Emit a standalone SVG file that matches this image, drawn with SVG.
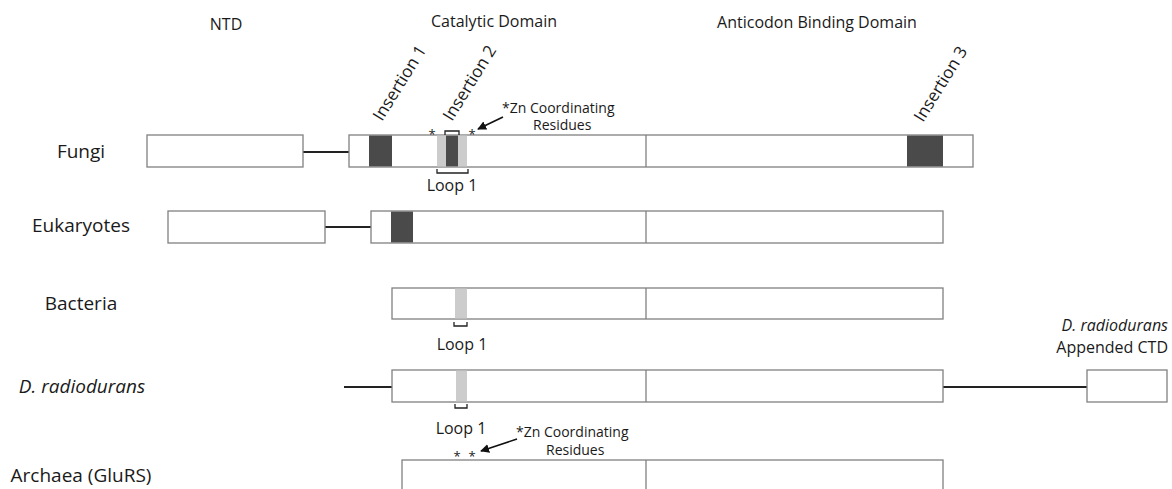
<svg xmlns="http://www.w3.org/2000/svg" width="1172" height="489" viewBox="0 0 1172 489">
<style>
text{font-family:"Open Sans","Noto Sans",sans-serif;fill:#1a1a1a}
.hd{font-size:16px;text-anchor:middle}
.lab{font-size:19px;text-anchor:middle}
.sm{font-size:14px}
.ctd{font-size:16px;text-anchor:end}
.loop{font-size:16px;text-anchor:middle}
.ins{font-size:17px}
.box{fill:#fff;stroke:#808080;stroke-width:1.3}
.dark{fill:#4a4a4a}
.light{fill:#cccccc}
.div{stroke:#808080;stroke-width:1.3}
.lnk{stroke:#222;stroke-width:2;fill:none}
.br{stroke:#222;stroke-width:1.3;fill:none}
.ast{font-size:13px;text-anchor:middle}
</style>
<defs>
<marker id="ah" viewBox="0 0 10 10" refX="9" refY="5" markerWidth="9" markerHeight="9" markerUnits="userSpaceOnUse" orient="auto">
<path d="M0,0 L10,5 L0,10 z" fill="#111"/>
</marker>
</defs>
<rect width="1172" height="489" fill="#fff"/>

<g id="headers">
<text class="hd" x="226" y="30">NTD</text>
<text class="hd" x="494" y="27">Catalytic Domain</text>
<text class="hd" x="817" y="28">Anticodon Binding Domain</text>
</g>

<g id="labels">
<text class="lab" x="81" y="158">Fungi</text>
<text class="lab" x="81" y="232">Eukaryotes</text>
<text class="lab" x="81" y="310">Bacteria</text>
<text class="lab" x="82" y="393" font-style="italic">D. radiodurans</text>
<text class="lab" x="81" y="482">Archaea (GluRS)</text>
</g>

<g id="connectors">
<line class="lnk" x1="303" y1="152" x2="349" y2="152"/>
<line class="lnk" x1="325" y1="227" x2="371" y2="227"/>
<line class="lnk" x1="344" y1="387" x2="392" y2="387"/>
<line class="lnk" x1="942" y1="387" x2="1087" y2="387"/>
<line stroke="#111" stroke-width="1.6" x1="503" y1="117" x2="478" y2="129" marker-end="url(#ah)"/>
<line stroke="#111" stroke-width="1.6" x1="517" y1="439" x2="481" y2="451" marker-end="url(#ah)"/>
</g>

<g id="fungi">
<rect class="box" x="147" y="135" width="156" height="32"/>
<rect class="box" x="349" y="135" width="624" height="32"/>
<rect class="dark" x="369" y="135.6" width="23" height="30.8"/>
<rect class="light" x="437" y="135.6" width="30" height="30.8"/>
<rect class="dark" x="446" y="135.6" width="12" height="30.8"/>
<rect class="dark" x="907" y="135.6" width="36" height="30.8"/>
<line class="div" x1="646" y1="135" x2="646" y2="167"/>
<path class="br" d="M445 135 V131 H459 V135"/>
<path class="br" d="M437 169 V173 H468 V169"/>
<text class="loop" x="452" y="191">Loop 1</text>
<text class="ast" x="432" y="139">*</text>
<text class="ast" x="472" y="139">*</text>
<text class="sm" x="502" y="113">*Zn Coordinating</text>
<text class="sm" x="533" y="130">Residues</text>
<text class="ins" transform="translate(382,122) rotate(-58)">Insertion 1</text>
<text class="ins" transform="translate(452,122) rotate(-58)">Insertion 2</text>
<text class="ins" transform="translate(923,123) rotate(-58)">Insertion 3</text>
</g>

<g id="eukaryotes">
<rect class="box" x="168" y="211" width="157" height="32"/>
<rect class="box" x="371" y="211" width="572" height="32"/>
<rect class="dark" x="391" y="211.6" width="22" height="30.8"/>
<line class="div" x1="646" y1="211" x2="646" y2="243"/>
</g>

<g id="bacteria">
<rect class="box" x="392" y="288" width="551" height="31"/>
<rect class="light" x="455" y="288.6" width="12" height="29.8"/>
<line class="div" x1="646" y1="288" x2="646" y2="319"/>
<path class="br" d="M454 322 V326 H467 V322"/>
<text class="loop" x="462" y="350">Loop 1</text>
</g>

<g id="dradiodurans">
<rect class="box" x="392" y="370" width="551" height="32"/>
<rect class="light" x="456" y="370.6" width="11" height="30.8"/>
<line class="div" x1="646" y1="370" x2="646" y2="402"/>
<path class="br" d="M455 404 V408 H467 V404"/>
<text class="loop" x="461" y="434">Loop 1</text>
</g>

<g id="ctd">
<rect class="box" x="1087" y="370" width="80" height="32"/>
<text class="ctd" x="1168" y="331" font-style="italic">D. radiodurans</text>
<text class="ctd" x="1168" y="353">Appended CTD</text>
</g>

<g id="archaea">
<rect class="box" x="402" y="460" width="541" height="40"/>
<line class="div" x1="646" y1="460" x2="646" y2="489"/>
<text class="ast" x="457" y="461">*</text>
<text class="ast" x="472" y="461">*</text>
<text class="sm" x="516" y="437">*Zn Coordinating</text>
<text class="sm" x="546" y="455">Residues</text>
</g>
</svg>
